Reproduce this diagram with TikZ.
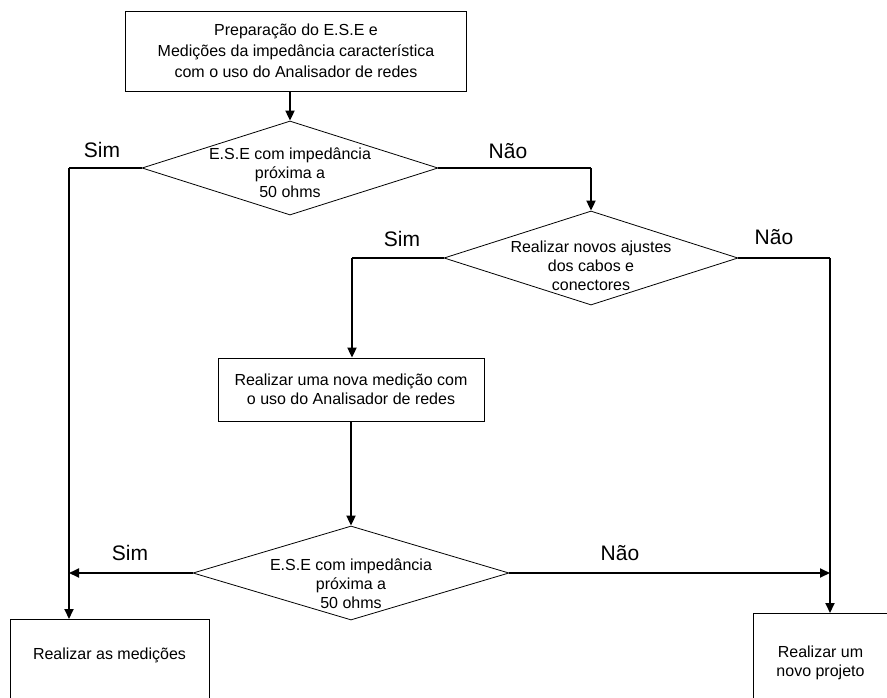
\documentclass[tikz,border=0pt]{standalone}
\usepackage{fontspec}
\setmainfont{Liberation Sans}
\usetikzlibrary{arrows.meta,shapes.geometric}

\begin{document}
\begin{tikzpicture}[x=1pt,y=-1pt,>={Triangle[length=10pt,width=9pt]},
  every node/.style={font=\fontsize{16}{19}\selectfont},
  process/.style={draw,line width=0.8pt,align=center,inner sep=0pt},
  decision/.style={draw,line width=0.8pt,diamond,inner sep=0pt,
    minimum height=94pt},
  answer/.style={font=\fontsize{21}{24}\selectfont},
  flow/.style={->,line width=1.8pt},
  link/.style={line width=1.1pt}]
  \clip (0,0) rectangle (887,697);

  \node[process,minimum width=341pt,minimum height=80pt,
    font=\fontsize{16}{21}\selectfont] (prep) at (296,51)
    {Preparação do E.S.E e\\Medições da impedância característica\\
     com o uso do Analisador de redes};
  \node[decision,minimum width=296pt,
    label={[align=center,yshift=-5pt]center:{E.S.E com impedância\\próxima a\\50 ohms}}]
    (check1) at (290,168) {};
  \node[decision,minimum width=294pt,
    label={[align=center,yshift=-8pt]center:{Realizar novos ajustes\\dos cabos e\\conectores}}]
    (adjust) at (591,258) {};
  \node[process,minimum width=266pt,minimum height=63pt,
    font=\fontsize{16}{18.5}\selectfont] (remeasure) at (351,389.5)
    {Realizar uma nova medição com\\o uso do Analisador de redes};
  \node[decision,minimum width=316pt,
    label={[align=center,yshift=-11pt]center:{E.S.E com impedância\\próxima a\\50 ohms}}]
    (check2) at (351,573) {};
  \node[process,anchor=north,minimum width=199pt,minimum height=100pt,
    label={[yshift=14pt]center:Realizar as medições}] (measure) at (109.5,619) {};
  \node[process,anchor=north,minimum width=135pt,minimum height=100pt,
    label={[align=center,yshift=1pt]center:{Realizar um\\novo projeto}}]
    (newproj) at (820.5,613) {};

  % bends of the connectors
  \coordinate (simA) at (69,168);
  \coordinate (naoA) at (591,168);
  \coordinate (simB) at (352,258);
  \coordinate (naoB) at (830,258);
  \coordinate (simC) at (69,573);
  \coordinate (naoC) at (830,573);

  \draw[flow] (prep.south -| check1.north) -- (check1.north);
  \draw[link] (check1.west) -- (simA);
  \draw[flow] (simA) -- (simA |- measure.north);
  \draw[link] (check1.east) -- (naoA);
  \draw[flow] (naoA) -- (adjust.north);
  \draw[link] (adjust.west) -- (simB);
  \draw[flow] (simB) -- (simB |- remeasure.north);
  \draw[link] (adjust.east) -- (naoB);
  \draw[flow] (naoB) -- (naoB |- newproj.north);
  \draw[flow] (remeasure.south -| check2.north) -- (check2.north);
  \draw[flow] (check2.west) -- (simC);
  \draw[flow] (check2.east) -- (naoC);

  \node[answer] (sim1) at (102,150) {Sim};
  \node[answer] (nao1) at (508,151) {Não};
  \node[answer] (sim2) at (402,239) {Sim};
  \node[answer] (nao2) at (774,237) {Não};
  \node[answer] (sim3) at (130,553) {Sim};
  \node[answer] (nao3) at (620,553) {Não};
\end{tikzpicture}
\end{document}
